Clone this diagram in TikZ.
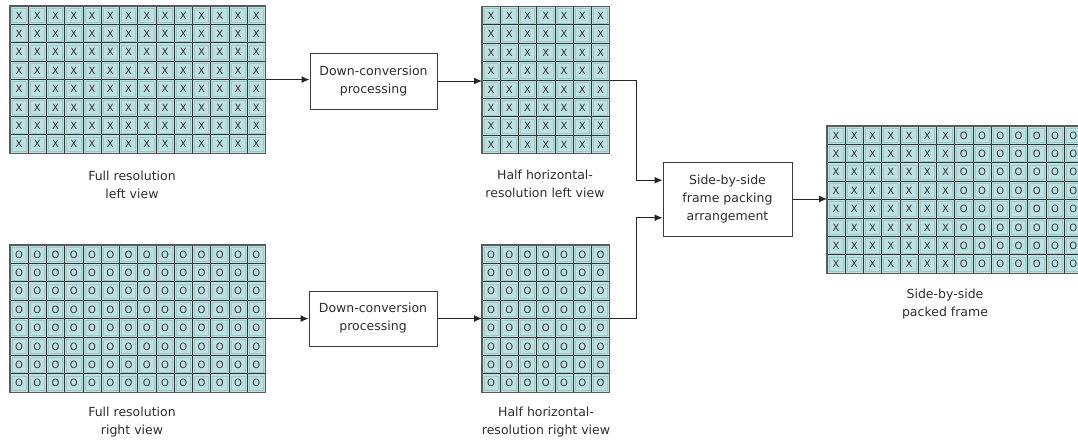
\documentclass[tikz,border=0pt]{standalone}
\usepackage{fontspec}
\setmainfont{DejaVu Sans}
\usetikzlibrary{arrows.meta,calc}
\definecolor{cellfill}{HTML}{BDE1E1}
\definecolor{cellhi}{HTML}{9CC9C9}
\definecolor{gridline}{HTML}{333333}
\definecolor{framegray}{HTML}{5A5A5A}
\definecolor{txtgray}{HTML}{2E2E2E}
\definecolor{boxgray}{HTML}{3C3C3C}
\newcommand\pixgrid[5]{%
  \foreach \i in {1,...,#3} {
    \foreach \j in {1,...,8} {
      \pgfmathsetmacro\cx{#1+(\i-1)*18.25}
      \pgfmathsetmacro\cy{#2+(\j-1)*18.4}
      \fill[cellfill] (\cx,\cy) rectangle ++(18.25,18.4);
      \draw[innersq] (\cx+2,\cy+2) rectangle ++(14.25,14.4);
      \ifnum\i>#4\relax\def\cellletter{O}\else\def\cellletter{X}\fi
      \node[celltxt] at (\cx+9.125,\cy+9.4) {\cellletter};
    }
  }
  \foreach \i in {1,...,#3} {
    \draw[gline] (#1+\i*18.25,#2) -- ++(0,147.2);
  }
  \foreach \j in {1,...,7} {
    \draw[gline] (#1,#2+\j*18.4) -- ++(#3*18.25,0);
  }
  \node[gridframe, minimum width=#3*18.25pt, minimum height=147.2pt] (#5) at (#1,#2) {};
}
\tikzset{
  innersq/.style={draw=cellhi, line width=0.6pt},
  celltxt/.style={font=\fontsize{10}{10}\selectfont, text=black!80, inner sep=0pt},
  gline/.style={draw=gridline, line width=1pt},
  gridframe/.style={draw=framegray, line width=1.2pt, anchor=north west, inner sep=0pt, outer sep=0pt},
  lbl/.style={align=center, font=\fontsize{12.5}{18}\selectfont, text=txtgray},
  procbox/.style={draw=boxgray, line width=1pt, fill=white, align=center, inner sep=0pt,
    font=\fontsize{12.5}{18}\selectfont, text=txtgray},
  conn/.style={draw=black!85, line width=1pt, -{Latex[length=8pt,width=7pt]}},
}
\begin{document}
\begin{tikzpicture}[x=1pt,y=-1pt]
\useasboundingbox (0,0) rectangle (1078,445);
% grids
\pixgrid{10}{6}{14}{14}{GL}
\pixgrid{10}{245}{14}{0}{GR}
\pixgrid{482}{6.5}{7}{7}{HL}
\pixgrid{482}{245}{7}{0}{HR}
\pixgrid{827}{126}{14}{7}{P}
% process boxes
\node[procbox, minimum width=127pt, minimum height=56pt] (D1) at (373.5,81) {Down-conversion\\processing};
\node[procbox, minimum width=128pt, minimum height=55pt] (D2) at (373,318.5) {Down-conversion\\processing};
\node[procbox, minimum width=129pt, minimum height=74pt] (S) at (727.5,199) {Side-by-side\\frame packing\\arrangement};
% labels
\node[lbl] (lGL) at (132,185) {Full resolution\\left view};
\node[lbl] (lHL) at (545,184) {Half horizontal-\\resolution left view};
\node[lbl] (lGR) at (132,422) {Full resolution\\right view};
\node[lbl] (lHR) at (546,422) {Half horizontal-\\resolution right view};
\node[lbl] (lP) at (945,304) {Side-by-side\\packed frame};
% connectors
\coordinate (inT) at ($(S.north west)!0.25!(S.south west)$);
\coordinate (inB) at ($(S.north west)!0.75!(S.south west)$);
\draw[conn] (GL.east) -- (GL.east -| D1.west);
\draw[conn] (D1.east) -- (D1.east -| HL.west);
\draw[conn] (GR.east) -- (GR.east -| D2.west);
\draw[conn] (D2.east) -- (D2.east -| HR.west);
\draw[conn] (HL.east) -- ++(27,0) |- (inT);
\draw[conn] (HR.east) -- ++(27,0) |- (inB);
\draw[conn] (S.east) -- (S.east -| P.west);
\end{tikzpicture}
\end{document}
